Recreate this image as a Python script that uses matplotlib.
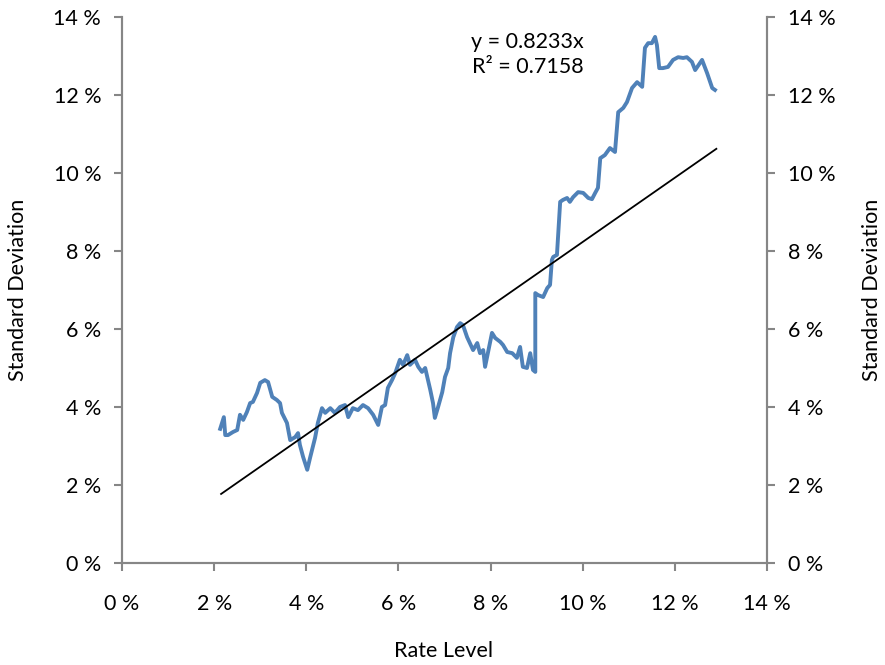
import numpy as np
import matplotlib.pyplot as plt

plt.rcParams['font.family'] = ['Lato', 'DejaVu Sans']

# rate level (%) and standard deviation (%)
rate = [2.13, 2.21, 2.24, 2.30, 2.41, 2.50, 2.56, 2.63, 2.71, 2.78, 2.84, 2.93,
        3.00, 3.10, 3.17, 3.26, 3.36, 3.43, 3.47, 3.58, 3.65, 3.76, 3.82, 3.86,
        3.93, 4.02, 4.08, 4.19, 4.25, 4.34, 4.41, 4.52, 4.62, 4.73, 4.84, 4.91,
        5.01, 5.12, 5.23, 5.34, 5.45, 5.56, 5.64, 5.71, 5.77, 5.86, 5.93, 6.03,
        6.10, 6.19, 6.25, 6.36, 6.43, 6.51, 6.58, 6.64, 6.69, 6.75, 6.79, 6.86,
        6.95, 7.01, 7.08, 7.12, 7.19, 7.27, 7.34, 7.40, 7.49, 7.55, 7.62, 7.71,
        7.77, 7.84, 7.88, 7.94, 8.03, 8.10, 8.21, 8.27, 8.36, 8.47, 8.57, 8.64,
        8.70, 8.79, 8.86, 8.92, 8.97, 8.97, 9.03, 9.14, 9.23, 9.29, 9.33, 9.36,
        9.44, 9.51, 9.57, 9.66, 9.72, 9.79, 9.90, 10.01, 10.12, 10.20, 10.27, 10.33,
        10.38, 10.48, 10.59, 10.70, 10.77, 10.88, 10.96, 11.07, 11.18, 11.29, 11.35,
        11.42, 11.50, 11.57, 11.61, 11.66, 11.74, 11.85, 11.96, 12.07, 12.18, 12.26,
        12.37, 12.44, 12.59, 12.70, 12.81, 12.87]
stdev = [3.44, 3.74, 3.28, 3.28, 3.36, 3.41, 3.80, 3.67, 3.87, 4.10, 4.13, 4.36,
         4.62, 4.69, 4.64, 4.26, 4.18, 4.10, 3.85, 3.59, 3.15, 3.23, 3.33, 3.03,
         2.72, 2.39, 2.69, 3.21, 3.59, 3.97, 3.85, 3.97, 3.85, 4.00, 4.05, 3.74,
         3.97, 3.92, 4.05, 3.97, 3.80, 3.54, 4.00, 4.05, 4.49, 4.69, 4.87, 5.21,
         5.08, 5.33, 5.08, 5.21, 5.03, 4.90, 5.00, 4.69, 4.44, 4.10, 3.72, 4.00,
         4.38, 4.77, 5.00, 5.38, 5.79, 6.05, 6.15, 6.10, 5.79, 5.64, 5.46, 5.64,
         5.38, 5.46, 5.03, 5.38, 5.90, 5.77, 5.67, 5.59, 5.41, 5.38, 5.26, 5.54,
         5.03, 5.00, 5.38, 4.95, 4.90, 6.92, 6.87, 6.82, 7.05, 7.13, 7.77, 7.85,
         7.90, 9.26, 9.31, 9.36, 9.26, 9.38, 9.51, 9.49, 9.36, 9.33, 9.49, 9.62,
         10.38, 10.46, 10.64, 10.54, 11.56, 11.67, 11.82, 12.18, 12.33, 12.21, 13.21,
         13.33, 13.33, 13.49, 13.28, 12.69, 12.69, 12.72, 12.90, 12.97, 12.95, 12.97,
         12.85, 12.64, 12.90, 12.56, 12.18, 12.13]

slope = 0.8233
r2 = 0.7158
fit_x = np.array([2.15, 12.9])

fig = plt.figure(figsize=(8.85, 6.65), dpi=100)
ax = fig.add_axes([0.1379, 0.1534, 0.7288, 0.821])

ax.plot(rate, stdev, color='#4F81B8', lw=2.8, solid_joinstyle='round', zorder=2)
ax.plot(fit_x, slope * fit_x, color='black', lw=1.3, zorder=3)

ticks = np.arange(0, 15, 2)
ax.set_xlim(0, 14)
ax.set_ylim(0, 14)
ax.set_xticks(ticks)
ax.set_yticks(ticks)
ax.set_xticklabels([f'{t} %' for t in ticks])
ax.set_yticklabels([f'{t} %' for t in ticks])

ax2 = ax.twinx()
ax2.set_ylim(0, 14)
ax2.set_yticks(ticks)
ax2.set_yticklabels([f'{t} %' for t in ticks])

gray = '#868686'
fs = 15.5
for a in (ax, ax2):
    a.spines['top'].set_visible(False)
    for s in a.spines.values():
        s.set_color(gray)
        s.set_linewidth(1.5)
    a.tick_params(direction='out', length=6, width=1.5, color=gray,
                  labelsize=fs, pad=9)
ax.tick_params(axis='x', pad=16)

ax.set_xlabel('Rate Level', fontsize=fs, va='center')
ax.xaxis.set_label_coords(0.499, -0.161)
ax.set_ylabel('Standard Deviation', fontsize=fs, va='center')
ax.yaxis.set_label_coords(-0.161, 0.5)
ax2.set_ylabel('Standard Deviation', fontsize=fs, va='center', rotation=90)
ax2.yaxis.set_label_coords(1.163, 0.5)

ax.text(8.8, 13.04, f'y = {slope}x\nR² = {r2}', fontsize=fs, ha='center',
        va='center', linespacing=1.3)

fig.savefig('out.png', dpi=100)
